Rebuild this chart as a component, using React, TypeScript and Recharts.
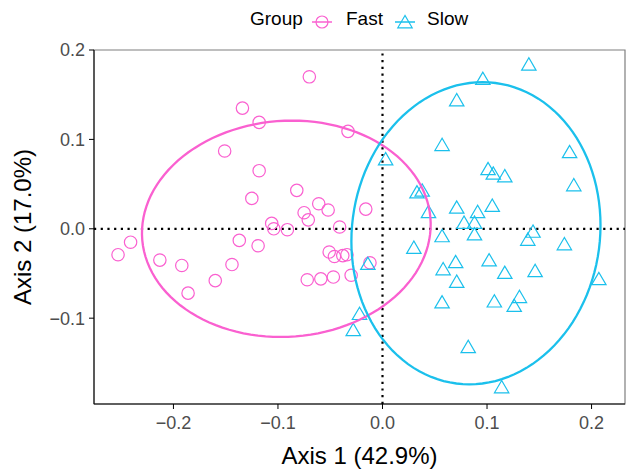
import { ScatterChart, Scatter, XAxis, YAxis, ReferenceLine, ReferenceArea } from 'recharts'

// PCoA coordinates
const fastPoints = [
  { x: -0.070, y: 0.170 }, { x: -0.134, y: 0.135 }, { x: -0.118, y: 0.119 },
  { x: -0.033, y: 0.109 }, { x: -0.151, y: 0.087 }, { x: -0.118, y: 0.065 },
  { x: -0.082, y: 0.043 }, { x: -0.125, y: 0.034 }, { x: -0.061, y: 0.028 },
  { x: -0.052, y: 0.021 }, { x: -0.075, y: 0.018 }, { x: -0.071, y: 0.010 },
  { x: -0.106, y: 0.006 }, { x: -0.041, y: 0.002 }, { x: -0.104, y: 0.000 },
  { x: -0.091, y: -0.001 }, { x: -0.241, y: -0.015 }, { x: -0.253, y: -0.029 },
  { x: -0.213, y: -0.035 }, { x: -0.192, y: -0.041 }, { x: -0.186, y: -0.072 },
  { x: -0.160, y: -0.058 }, { x: -0.144, y: -0.040 }, { x: -0.137, y: -0.013 },
  { x: -0.119, y: -0.019 }, { x: -0.051, y: -0.026 }, { x: -0.046, y: -0.031 },
  { x: -0.038, y: -0.030 }, { x: -0.034, y: -0.029 }, { x: -0.072, y: -0.057 },
  { x: -0.059, y: -0.056 }, { x: -0.047, y: -0.054 }, { x: -0.030, y: -0.052 },
  { x: -0.016, y: 0.022 }, { x: -0.012, y: -0.038 },
]

const slowPoints = [
  { x: 0.140, y: 0.184 }, { x: 0.096, y: 0.168 }, { x: 0.071, y: 0.144 },
  { x: 0.057, y: 0.094 }, { x: 0.179, y: 0.086 }, { x: 0.003, y: 0.078 },
  { x: 0.101, y: 0.067 }, { x: 0.106, y: 0.062 }, { x: 0.117, y: 0.059 },
  { x: 0.183, y: 0.049 }, { x: 0.033, y: 0.041 }, { x: 0.038, y: 0.043 },
  { x: 0.044, y: 0.019 }, { x: 0.071, y: 0.024 }, { x: 0.091, y: 0.019 },
  { x: 0.105, y: 0.026 }, { x: 0.078, y: 0.007 }, { x: 0.088, y: 0.007 },
  { x: 0.144, y: -0.003 }, { x: 0.057, y: -0.008 }, { x: 0.088, y: -0.006 },
  { x: 0.139, y: -0.012 }, { x: 0.174, y: -0.017 }, { x: 0.030, y: -0.021 },
  { x: -0.014, y: -0.039 }, { x: 0.070, y: -0.037 }, { x: 0.058, y: -0.045 },
  { x: 0.102, y: -0.035 }, { x: 0.117, y: -0.049 }, { x: 0.146, y: -0.047 },
  { x: 0.071, y: -0.059 }, { x: 0.207, y: -0.056 }, { x: 0.057, y: -0.082 },
  { x: 0.107, y: -0.081 }, { x: 0.131, y: -0.076 }, { x: 0.126, y: -0.086 },
  { x: -0.022, y: -0.095 }, { x: -0.028, y: -0.113 }, { x: 0.082, y: -0.132 },
  { x: 0.114, y: -0.177 },
]

// 95% ellipses: centre, half-widths, and a small tilt
const fastEllipse = { cx: -0.092, cy: 0.0, rx: 0.138, ry: 0.121, tilt: 0.0055 }
const slowEllipse = { cx: 0.0894, cy: -0.005, rx: 0.119, ry: 0.169, tilt: 0.0063 }

const xTicks = [-0.2, -0.1, 0, 0.1, 0.2]
const yTicks = [-0.1, 0, 0.1, 0.2]

const PINK = '#FA60D0'
const CYAN = '#1BC0EC'
const FONT = '"Liberation Sans", Arial, sans-serif'

const ellipsePath = (e: typeof fastEllipse) => {
  const pts = []
  for (let i = 0; i <= 120; i++) {
    const t = (i / 120) * Math.PI * 2
    pts.push({ x: e.cx + e.rx * Math.cos(t) + e.tilt * Math.sin(t), y: e.cy + e.ry * Math.sin(t) })
  }
  return pts
}

const fmt = (v: number) => v.toFixed(1).replace('-', '\u2212')

const Circle = (props: any) => (
  <circle cx={props.cx} cy={props.cy} r={6.2} fill='none' stroke={PINK} strokeWidth={1.2} />
)

const Triangle = (props: any) => {
  const { cx, cy } = props
  return (
    <polygon
      points={`${cx},${cy - 6.5} ${cx - 7.2},${cy + 5.8} ${cx + 7.2},${cy + 5.8}`}
      fill='none'
      stroke={CYAN}
      strokeWidth={1.2}
    />
  )
}

const NoDot = () => <g />

function Legend() {
  return (
    <div style={{ position: 'absolute', left: 0, top: 0, width: 626, height: 40, fontFamily: FONT, fontSize: 19 }}>
      <span style={{ position: 'absolute', left: 250, top: 8 }}>Group</span>
      <svg style={{ position: 'absolute', left: 310, top: 10 }} width={24} height={24}>
        <line x1={2} y1={12} x2={22} y2={12} stroke={PINK} strokeWidth={1.5} />
        <circle cx={12} cy={12} r={6} fill='none' stroke={PINK} strokeWidth={1.2} />
      </svg>
      <span style={{ position: 'absolute', left: 346, top: 8 }}>Fast</span>
      <svg style={{ position: 'absolute', left: 393, top: 10 }} width={24} height={24}>
        <line x1={2} y1={12} x2={22} y2={12} stroke={CYAN} strokeWidth={1.5} />
        <polygon points='12,5.5 4.8,17.8 19.2,17.8' fill='none' stroke={CYAN} strokeWidth={1.2} />
      </svg>
      <span style={{ position: 'absolute', left: 427, top: 8 }}>Slow</span>
    </div>
  )
}

export default function App() {
  const xDomain = [-0.276, 0.232]
  const yDomain = [-0.196, 0.2]
  return (
    <div style={{ position: 'absolute', left: 0, top: 0, width: 626, height: 470, background: '#fff' }}>
      <Legend />
      <ScatterChart width={626} height={470} margin={{ top: 50, right: 1, bottom: 0, left: 0 }}>
        <ReferenceArea
          x1={xDomain[0]}
          x2={xDomain[1]}
          y1={yDomain[0]}
          y2={yDomain[1]}
          fill='none'
          fillOpacity={0}
          stroke='#7f7f7f'
          strokeWidth={1.2}
        />
        <XAxis
          type='number'
          dataKey='x'
          domain={xDomain}
          ticks={xTicks}
          tickFormatter={fmt}
          allowDataOverflow
          height={66}
          stroke='#000'
          tickSize={5}
          tickMargin={7}
          tick={{ fill: '#4d4d4d', fontSize: 18, fontFamily: FONT }}
          label={{ value: 'Axis 1 (42.9%)', position: 'insideBottom', offset: 6, fill: '#000', fontSize: 24, fontFamily: FONT }}
        />
        <YAxis
          type='number'
          dataKey='y'
          domain={yDomain}
          ticks={yTicks}
          tickFormatter={fmt}
          allowDataOverflow
          width={94}
          stroke='#000'
          tickSize={5}
          tickMargin={4}
          tick={{ fill: '#4d4d4d', fontSize: 18, fontFamily: FONT }}
          label={{ value: 'Axis 2 (17.0%)', angle: -90, position: 'insideLeft', offset: 22, fill: '#000', fontSize: 24, fontFamily: FONT, style: { textAnchor: 'middle' } }}
        />
        <ReferenceLine x={0} stroke='#000' strokeWidth={2.2} strokeDasharray='2.2 4.5' />
        <ReferenceLine y={0} stroke='#000' strokeWidth={2.2} strokeDasharray='2.2 4.5' />
        <Scatter data={fastPoints} shape={<Circle />} isAnimationActive={false} />
        <Scatter data={slowPoints} shape={<Triangle />} isAnimationActive={false} />
        <Scatter
          data={ellipsePath(fastEllipse)}
          line={{ stroke: PINK, strokeWidth: 2.3 }}
          lineType='joint'
          shape={<NoDot />}
          isAnimationActive={false}
        />
        <Scatter
          data={ellipsePath(slowEllipse)}
          line={{ stroke: CYAN, strokeWidth: 2.3 }}
          lineType='joint'
          shape={<NoDot />}
          isAnimationActive={false}
        />
      </ScatterChart>
    </div>
  )
}
